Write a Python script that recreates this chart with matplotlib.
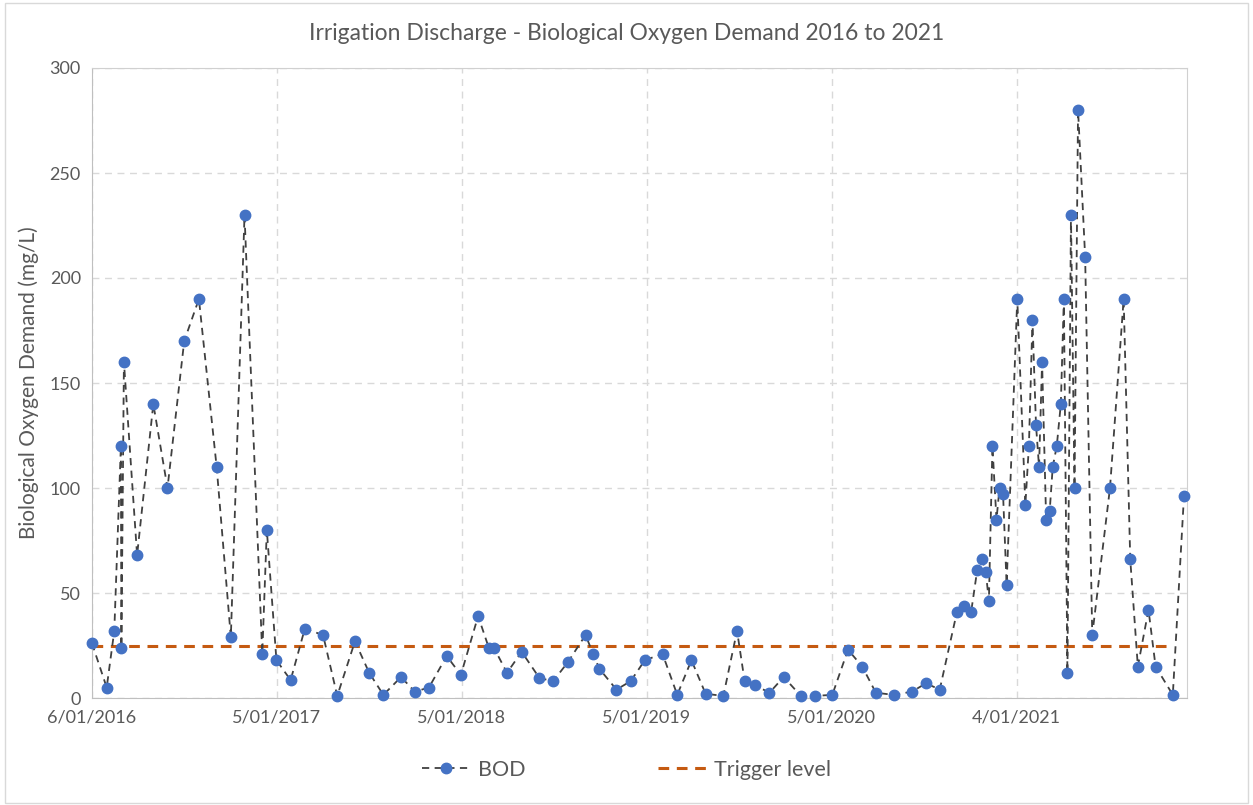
import numpy as np
import pandas as pd
import matplotlib
matplotlib.use("Agg")
import matplotlib.pyplot as plt
import matplotlib.dates as mdates
from matplotlib.ticker import FuncFormatter, MultipleLocator
from matplotlib.patches import Rectangle

plt.rcParams['font.family'] = ['Lato', 'DejaVu Sans']

# BOD samples (mg/L)
sample_dates = [
  "2016-01-06", "2016-02-04", "2016-02-19", "2016-03-03", "2016-03-04", "2016-03-09",
  "2016-04-04", "2016-05-06", "2016-06-03", "2016-07-06", "2016-08-04", "2016-09-08",
  "2016-10-06", "2016-11-02", "2016-12-07", "2016-12-16", "2017-01-04", "2017-02-01",
  "2017-03-01", "2017-04-06", "2017-05-04", "2017-06-08", "2017-07-06", "2017-08-03",
  "2017-09-07", "2017-10-04", "2017-11-01", "2017-12-06", "2018-01-03", "2018-02-06",
  "2018-02-27", "2018-03-09", "2018-04-04", "2018-05-03", "2018-06-07", "2018-07-04",
  "2018-08-02", "2018-09-06", "2018-09-21", "2018-10-03", "2018-11-06", "2018-12-04",
  "2019-01-01", "2019-02-05", "2019-03-06", "2019-04-03", "2019-05-01", "2019-06-05",
  "2019-07-02", "2019-07-17", "2019-08-07", "2019-09-04", "2019-10-02", "2019-11-05",
  "2019-12-03", "2020-01-06", "2020-02-06", "2020-03-05", "2020-04-01", "2020-05-06",
  "2020-06-11", "2020-07-09", "2020-08-05", "2020-09-08", "2020-09-22", "2020-10-06",
  "2020-10-18", "2020-10-28", "2020-11-04", "2020-11-10", "2020-11-17", "2020-11-25",
  "2020-12-01", "2020-12-08", "2020-12-15", "2021-01-05", "2021-01-21", "2021-01-28",
  "2021-02-04", "2021-02-11", "2021-02-17", "2021-02-23", "2021-03-03", "2021-03-10",
  "2021-03-16", "2021-03-24", "2021-04-01", "2021-04-07", "2021-04-14", "2021-04-21",
  "2021-04-28", "2021-05-05", "2021-05-19", "2021-06-02", "2021-07-07", "2021-08-03",
  "2021-08-16", "2021-08-31", "2021-09-21", "2021-10-05", "2021-11-08", "2021-11-30",
]
bod = [
  26, 5, 32, 120, 24, 160,
  68, 140, 100, 170, 190, 110,
  29, 230, 21, 80, 18, 8.5,
  33, 30, 1, 27, 12, 1.5,
  10, 3, 5, 20, 11, 39,
  24, 24, 12, 22, 9.5, 8,
  17, 30, 21, 14, 4, 8,
  18, 21, 1.5, 18, 2, 1,
  32, 8, 6, 2.5, 10, 1,
  1, 1.5, 23, 15, 2.5, 1.5,
  3, 7, 4, 41, 44, 41,
  61, 66, 60, 46, 120, 85,
  100, 97, 54, 190, 92, 120,
  180, 130, 110, 160, 85, 89,
  110, 120, 140, 190, 12, 230,
  100, 280, 210, 30, 100, 190,
  66, 15, 42, 15, 1.5, 96,
]
trigger_level = 25
tick_start = "2016-01-06"
tick_step_days = 365
x_end = "2021-12-06"

dates = pd.to_datetime(sample_dates)
trig_dates = dates[[0, -2]]

W, H = 1253, 805
fig = plt.figure(figsize=(W / 100, H / 100), dpi=100)
ax = fig.add_axes([92/W, 1 - 698/H, (1187 - 92)/W, (698 - 68)/H])

grey = "#595959"
ax.plot(dates, bod, color="#404040", linestyle=(0, (4, 3)), linewidth=1.3,
        marker="o", markersize=7.5, markerfacecolor="#4472C4",
        markeredgecolor="#4472C4", label="BOD", clip_on=False, zorder=3)
ax.plot(trig_dates, [trigger_level] * len(trig_dates), color="#C55A11",
        linestyle=(0, (3.5, 2.5)), linewidth=2.2, label="Trigger level", zorder=2)

ax.set_ylim(0, 300)
ax.yaxis.set_major_locator(MultipleLocator(50))
ax.set_xlim(dates[0], pd.Timestamp(x_end))

ticks = pd.date_range(tick_start, x_end, freq=f"{tick_step_days}D")
ax.set_xticks(mdates.date2num(ticks))
ax.xaxis.set_major_formatter(FuncFormatter(
  lambda v, pos: (lambda d: f"{d.day}/{d.month:02d}/{d.year}")(mdates.num2date(v))))

ax.grid(True, color="#d9d9d9", linestyle=(0, (5, 4)), linewidth=1.0)
ax.set_axisbelow(True)
for s in ax.spines.values():
  s.set_color("#d0d0d0")
ax.spines["bottom"].set_color("#bfbfbf")
ax.spines["left"].set_color("#bfbfbf")
ax.tick_params(length=0, labelsize=13, colors=grey, pad=8)

ax.set_ylabel("Biological Oxygen Demand (mg/L)", fontsize=15, color=grey, labelpad=8)
fig.text(0.5, 1 - 33/H, "Irrigation Discharge - Biological Oxygen Demand 2016 to 2021",
         ha="center", va="center", fontsize=16.5, color=grey)

leg = fig.legend(loc="center", bbox_to_anchor=(0.5, 1 - 770/H), ncol=2, frameon=False,
                 fontsize=15.5, labelcolor=grey, columnspacing=6.2, handlelength=2.3,
                 handletextpad=0.3)

fig.patches.append(Rectangle((5/W, 2/H), 1 - 10/W, 1 - 5/H, transform=fig.transFigure,
                             fill=False, edgecolor="#d9d9d9", linewidth=1))

fig.savefig("out.png", dpi=100)
